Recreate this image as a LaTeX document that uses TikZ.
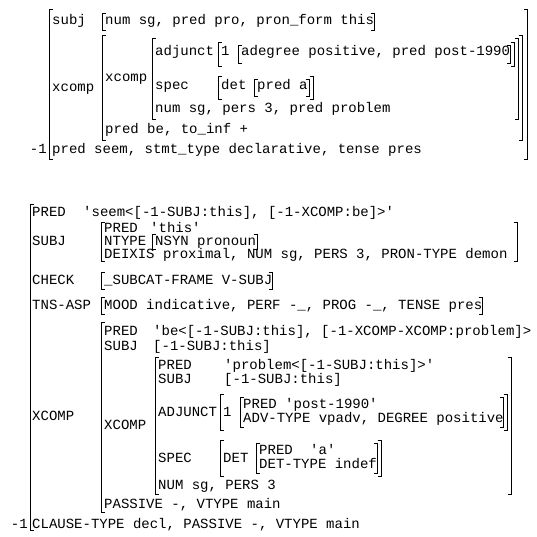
\documentclass[tikz,border=0pt]{standalone}
\usepackage{fontspec}
\newfontfamily\fsfont{Liberation Mono}[Ligatures=TeXOff]
% brackets: x, top y, bottom y
\newcommand\lbrk[3]{\draw[brk] (#1+3.5,#2) -- (#1,#2) -- (#1,#3) -- (#1+3.5,#3);}
\newcommand\rbrk[3]{\draw[brk] (#1-3.5,#2) -- (#1,#2) -- (#1,#3) -- (#1-3.5,#3);}

\begin{document}
\begin{tikzpicture}[
    x=1pt, y=-1pt,
    every node/.style={anchor=base west, inner sep=0pt,
                       font=\fsfont\fontsize{14}{14}\selectfont},
    brk/.style={line width=0.8pt},
]
    \useasboundingbox (0,0) rectangle (537,537);

    % upper f-structure
    \lbrk{49}{9}{159} \rbrk{527}{9}{159}
    \node[anchor=base east] (um) at (47,154) {-1};
    \node (usubj) at (52,25) {subj};
    \lbrk{102}{13}{30} \rbrk{374}{13}{30}
    \node (usubjv) at (105,25) {num sg, pred pro, pron\_form this};
    \node (uxc) at (52,92) {xcomp};
    \lbrk{102}{35}{140} \rbrk{522}{35}{140}
    \node (uxcb) at (105,82) {xcomp};
    \lbrk{152}{38}{119} \rbrk{518}{38}{119}
    \node (uadj) at (155,56) {adjunct};
    \lbrk{218}{42}{66} \rbrk{514}{42}{66}
    \node (uone) at (221,56) {1};
    \lbrk{238}{45}{63} \rbrk{510}{45}{63}
    \node (uadjv) at (241,56) {adegree positive, pred post-1990};
    \node (uspec) at (155,90) {spec};
    \lbrk{218}{76}{99} \rbrk{313}{76}{99}
    \node (udet) at (221,90) {det};
    \lbrk{254}{79}{96} \rbrk{309}{79}{96}
    \node (udetv) at (257,90) {pred a};
    \node (unum) at (155,113) {num sg, pers 3, pred problem};
    \node (ube) at (105,134) {pred be, to\_inf +};
    \node (useem) at (52,154) {pred seem, stmt\_type declarative, tense pres};

    % lower f-structure
    \lbrk{30}{204}{530}
    \node[anchor=base east] (lm) at (28,528) {-1};
    \node (lpred) at (32,216) {PRED};
    \node (lpredv) at (83,216) {'seem<[-1-SUBJ:this], [-1-XCOMP:be]>'};
    \node (lsubj) at (32,245) {SUBJ};
    \lbrk{101}{222}{261} \rbrk{517}{222}{261}
    \node (spred) at (104,232) {PRED};
    \node (spredv) at (150,232) {'this'};
    \node (snt) at (104,245) {NTYPE};
    \lbrk{152}{234}{249} \rbrk{257}{234}{249}
    \node (sntv) at (155,245) {NSYN pronoun};
    \node (sdx) at (104,258) {DEIXIS proximal, NUM sg, PERS 3, PRON-TYPE demon};
    \node (lchk) at (32,284) {CHECK};
    \lbrk{101}{272}{289} \rbrk{272}{272}{289}
    \node (lchkv) at (104,284) {\_SUBCAT-FRAME V-SUBJ};
    \node (ltns) at (32,309) {TNS-ASP};
    \lbrk{101}{297}{314} \rbrk{482}{297}{314}
    \node (ltnsv) at (104,309) {MOOD indicative, PERF -\_, PROG -\_, TENSE pres};
    \node (lxc) at (32,420) {XCOMP};
    \lbrk{101}{322}{512}
    \node (xpred) at (104,335) {PRED};
    \node (xpredv) at (153,335) {'be<[-1-SUBJ:this], [-1-XCOMP-XCOMP:problem]>};
    \node (xsubj) at (104,350) {SUBJ};
    \node (xsubjv) at (153,350) {[-1-SUBJ:this]};
    \node (xxc) at (104,429) {XCOMP};
    \lbrk{155}{357}{494} \rbrk{511}{357}{494}
    \node (ppred) at (158,369) {PRED};
    \node (ppredv) at (224,369) {'problem<[-1-SUBJ:this]>'};
    \node (psubj) at (158,383) {SUBJ};
    \node (psubjv) at (224,383) {[-1-SUBJ:this]};
    \node (padj) at (158,416) {ADJUNCT};
    \lbrk{220}{394}{430} \rbrk{507}{394}{430}
    \node (pone) at (223,416) {1};
    \lbrk{240}{397}{427} \rbrk{503}{397}{427}
    \node (apred) at (243,408) {PRED};
    \node (apredv) at (285,408) {'post-1990'};
    \node (aadv) at (243,422) {ADV-TYPE vpadv, DEGREE positive};
    \node (pspec) at (158,462) {SPEC};
    \lbrk{220}{440}{476} \rbrk{381}{440}{476}
    \node (pdet) at (223,462) {DET};
    \lbrk{256}{443}{473} \rbrk{377}{443}{473}
    \node (dpred) at (259,454) {PRED};
    \node (dpredv) at (310,454) {'a'};
    \node (dtype) at (259,468) {DET-TYPE indef};
    \node (pnum) at (158,489) {NUM sg, PERS 3};
    \node (xpass) at (104,508) {PASSIVE -, VTYPE main};
    \node (lcls) at (32,528) {CLAUSE-TYPE decl, PASSIVE -, VTYPE main};
\end{tikzpicture}
\end{document}
